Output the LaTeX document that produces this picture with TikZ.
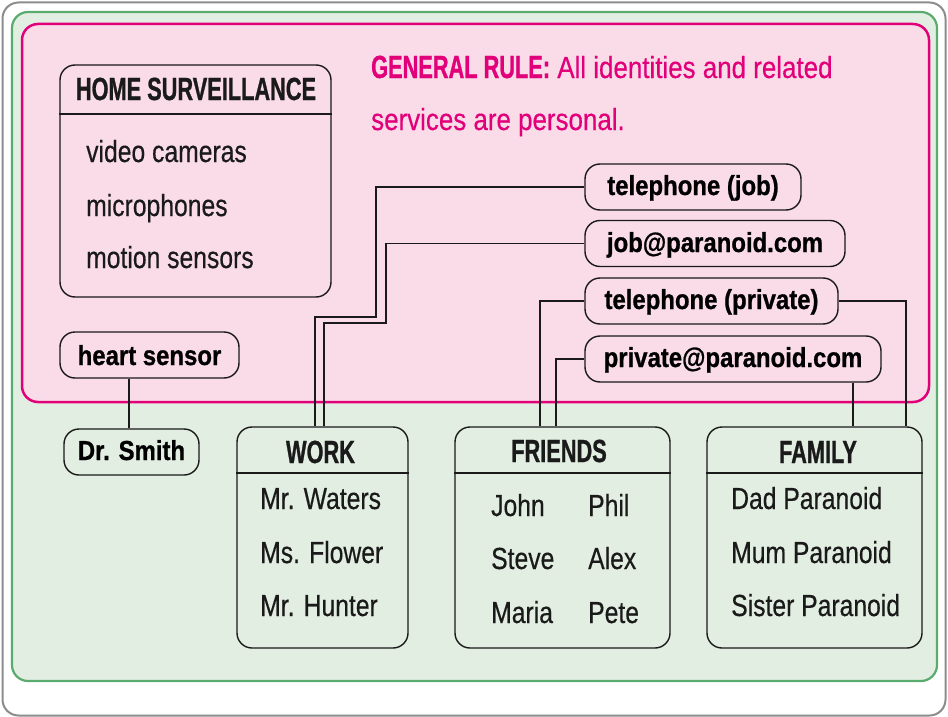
\documentclass[tikz,border=0pt]{standalone}
\usepackage{fontspec}
\setmainfont{Liberation Sans}
% condensed cuts of one sans family
\newfontfamily\regf[FakeStretch=0.81,FakeBold=0.4]{Liberation Sans}
\newfontfamily\rulereg[FakeStretch=0.85,FakeBold=0.4]{Liberation Sans}
\newfontfamily\lblf[FakeStretch=0.87,FakeBold=0.8]{Liberation Sans}
\newfontfamily\ttlf[FakeStretch=0.68,FakeBold=0.8]{Liberation Sans}
\newfontfamily\rulef[FakeStretch=0.68,FakeBold=0.8]{Liberation Sans}

\definecolor{framegray}{HTML}{8C8C8C}
\definecolor{zonegreen}{HTML}{E2EEE1}
\definecolor{edgegreen}{HTML}{5AAB6E}
\definecolor{zonepink}{HTML}{F9DCE7}
\definecolor{edgepink}{HTML}{E2007A}
\definecolor{ink}{HTML}{1A1A1A}

\tikzset{
  tag/.style={draw=ink, line width=1.4pt, rounded corners=15pt, inner sep=0pt,
    minimum height=46, text height=20, text depth=4,
    font=\lblf\bfseries\fontsize{27.5}{30}\selectfont},
  panel/.style={draw=ink, line width=1.4pt, rounded corners=15pt, inner sep=0pt},
  item/.style={anchor=base west, inner sep=0pt, text=ink, font=\regf\fontsize{30.5}{36}\selectfont},
  title/.style={anchor=base, inner sep=0pt, text=ink, font=\ttlf\bfseries\fontsize{32}{36}\selectfont},
  rule/.style={anchor=base west, inner sep=0pt, text=edgepink, font=\rulereg\fontsize{30.5}{36}\selectfont},
  link/.style={draw=ink, line width=1.3pt},
  sep/.style={draw=ink, line width=1.4pt},
}

\begin{document}
\begin{tikzpicture}[x=1pt, y=-1pt]
\useasboundingbox (0,0) rectangle (948,717);

% nested zones
\draw[framegray, line width=2pt, rounded corners=16pt] (2.5,2.5) rectangle (945.5,715.5);
\draw[edgegreen, fill=zonegreen, line width=2.2pt, rounded corners=16pt] (12,12) rectangle (937,681);
\draw[edgepink, fill=zonepink, line width=2.5pt, rounded corners=16pt] (22,24) rectangle (929,402);

% general rule
\node[rule] (rule1) at (371,78) {{\rulef\bfseries\fontsize{32}{36}\selectfont GENERAL RULE:} All identities and related};
\node[rule] (rule2) at (371,130) {services are personal.};

% home surveillance panel
\node[panel, minimum width=271, minimum height=232] (hsv) at (195.5,181) {};
\coordinate (hsvline) at (0,114);
\draw[sep] (hsv.west |- hsvline) -- (hsv.east |- hsvline);
\node[title] (hsvt) at (196,100) {HOME SURVEILLANCE};
\node[item] (hsv1) at (86,162) {video cameras};
\node[item] (hsv2) at (86,216) {microphones};
\node[item] (hsv3) at (86,268) {motion sensors};

% identity tags
\node[tag, minimum width=216] (tj) at (693,187) {telephone (job)};
\node[tag, minimum width=260, text height=21] (jm) at (715,243.5) {job@paranoid.com};
\node[tag, minimum width=253] (tp) at (711.5,301) {telephone (private)};
\node[tag, minimum width=296] (pm) at (733,359) {private@paranoid.com};
\node[tag, minimum width=179, text height=24] (hs) at (149.5,355) {heart sensor};
\node[tag, minimum width=135] (ds) at (131.5,452) {Dr. Smith};

% contact groups
\coordinate (grpline) at (0,473);
\node[panel, minimum width=171, minimum height=221] (work) at (322.5,537.5) {};
\node[panel, minimum width=215, minimum height=221] (fr) at (562.5,537.5) {};
\node[panel, minimum width=215, minimum height=221] (fam) at (814.5,537.5) {};
\draw[sep] (work.west |- grpline) -- (work.east |- grpline);
\draw[sep] (fr.west |- grpline) -- (fr.east |- grpline);
\draw[sep] (fam.west |- grpline) -- (fam.east |- grpline);

\node[title] (workt) at (320.5,463) {WORK};
\node[title] (frt) at (559,462) {FRIENDS};
\node[title] (famt) at (818,463) {FAMILY};

\node[item] (w1) at (260,509) {Mr. Waters};
\node[item] (w2) at (260,563) {Ms. Flower};
\node[item] (w3) at (260,616) {Mr. Hunter};

\node[item] (f1) at (491,516) {John};
\node[item] (f2) at (588,516) {Phil};
\node[item] (f3) at (491,569) {Steve};
\node[item] (f4) at (588,569) {Alex};
\node[item] (f5) at (491,623) {Maria};
\node[item] (f6) at (588,623) {Pete};

\node[item] (m1) at (731,509) {Dad Paranoid};
\node[item] (m2) at (731,563) {Mum Paranoid};
\node[item] (m3) at (731,616) {Sister Paranoid};

% connector columns
\coordinate (wa) at (315,0);
\coordinate (wb) at (324,0);
\coordinate (fa) at (540,0);
\coordinate (fb) at (556,0);
\coordinate (fc) at (906,0);
\coordinate (fd) at (853,0);
\coordinate (ha) at (129,0);

\draw[link] (tj.west) -| (376,317) -| (work.north -| wa);
\draw[link] (jm.west) -| (386,323) -| (work.north -| wb);
\draw[link] (tp.west) -| (fr.north -| fa);
\draw[link] (pm.west) -| (fr.north -| fb);
\draw[link] (tp.east) -| (fam.north -| fc);
\draw[link] (pm.south -| fd) -- (fam.north -| fd);
\draw[link] (hs.south -| ha) -- (ds.north -| ha);
\end{tikzpicture}
\end{document}
